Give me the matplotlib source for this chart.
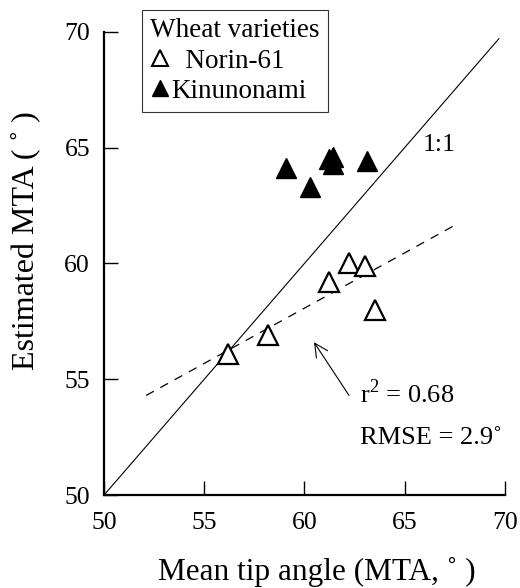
import matplotlib
matplotlib.use("Agg")
import matplotlib.pyplot as plt
from matplotlib.lines import Line2D

plt.rcParams["font.family"] = ["Liberation Serif", "DejaVu Serif"]
plt.rcParams["mathtext.fontset"] = "custom"
plt.rcParams["mathtext.rm"] = "Liberation Serif"

# measured vs estimated mean tip angle (degrees)
norin_x = [56.2, 58.2, 61.2, 62.2, 63.0, 63.5]
norin_y = [56.1, 56.9, 59.2, 60.0, 59.9, 58.0]
kinu_x = [59.1, 60.3, 61.2, 61.4, 61.4, 63.1]
kinu_y = [64.1, 63.3, 64.5, 64.6, 64.3, 64.4]

one_to_one = [50.0, 69.7]
fit_x = [52.1, 67.4]
fit_y = [54.3, 61.6]

ticks = [50, 55, 60, 65, 70]

fig = plt.figure(figsize=(5.2, 5.88), dpi=100)
ax = fig.add_axes([0.2, 0.158, 0.771, 0.788])

ax.plot(one_to_one, one_to_one, color="black", lw=0.8)
ax.plot(fit_x, fit_y, color="black", lw=0.9, ls=(0, (7, 6)))

ax.plot(norin_x, norin_y, ls="none", marker="^", ms=14, mfc="white",
        mec="black", mew=1.6, clip_on=False)
ax.plot(kinu_x, kinu_y, ls="none", marker="^", ms=14, mfc="black",
        mec="black", mew=1.0, clip_on=False)

ax.set_xlim(50, 70)
ax.set_ylim(50, 70)
ax.set_xticks(ticks)
ax.set_yticks(ticks)
for side in ["top", "right"]:
    ax.spines[side].set_visible(False)
for side in ["left", "bottom"]:
    ax.spines[side].set_linewidth(1.6)
ax.tick_params(direction="in", length=10, width=1.0, labelsize=18.5, pad=10)
ax.tick_params(axis="x", pad=12)

ax.text(66.7, 65.1, "1:1", fontsize=18.5, ha="center", va="center")
ax.text(62.75, 54.4, r"r$^{2}$ = 0.68", fontsize=19, ha="left", va="center")
ax.text(62.75, 52.45, "RMSE = 2.9˚", fontsize=19, ha="left", va="center")
ax.annotate("", xy=(60.4, 56.7), xytext=(62.3, 54.2),
            arrowprops=dict(arrowstyle="->", lw=0.8, mutation_scale=24,
                            color="black"))

ax.set_xlabel("Mean tip angle (MTA, ˚ )", fontsize=22.5)
ax.xaxis.set_label_coords(0.53, -0.133)
ax.set_ylabel("Estimated MTA ( ˚ )", fontsize=23)
ax.yaxis.set_label_coords(-0.16, 0.549)

handles = [
    Line2D([], [], ls="none", marker="^", ms=11, mfc="white", mec="black",
           mew=1.5, label="  Norin-61"),
    Line2D([], [], ls="none", marker="^", ms=12, mfc="black", mec="black",
           label="Kinunonami"),
]
leg = ax.legend(handles=handles, title="Wheat varieties", loc="upper left",
                bbox_to_anchor=(0.273, 0.983), bbox_transform=fig.transFigure,
                fontsize=19.5, title_fontsize=19.5, frameon=True, fancybox=False,
                edgecolor="black", handlelength=0.7, handletextpad=0.1,
                borderpad=0.3, labelspacing=0.2, alignment="left",
                borderaxespad=0)
leg.get_frame().set_linewidth(0.8)

fig.savefig("out.png", dpi=100)
